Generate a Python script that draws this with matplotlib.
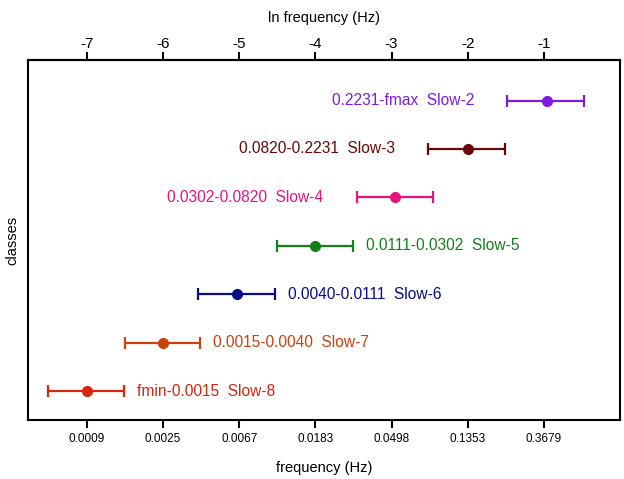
import matplotlib.pyplot as plt
import numpy as np

plt.rcParams['font.family'] = ['Liberation Sans', 'DejaVu Sans']

# classes from top to bottom
classes = ['Slow-2', 'Slow-3', 'Slow-4', 'Slow-5', 'Slow-6', 'Slow-7', 'Slow-8']
ranges = ['0.2231-fmax', '0.0820-0.2231', '0.0302-0.0820', '0.0111-0.0302',
          '0.0040-0.0111', '0.0015-0.0040', 'fmin-0.0015']
centers = [-0.96, -2.0, -2.95, -4.0, -5.03, -6.0, -7.0]
err_lo = [0.52, 0.52, 0.51, 0.5, 0.51, 0.5, 0.51]
err_hi = [0.49, 0.49, 0.49, 0.49, 0.5, 0.49, 0.49]
colors = ['#7f1be0', '#6a0808', '#e8127c', '#15801a', '#0a0a8c', '#c8410f', '#d8250c']
label_left = [True, True, True, False, False, False, False]

top_ticks = [-7, -6, -5, -4, -3, -2, -1]
bottom_labels = ['0.0009', '0.0025', '0.0067', '0.0183', '0.0498', '0.1353', '0.3679']

fig, ax = plt.subplots(figsize=(6.24, 4.79), dpi=100)
fig.subplots_adjust(left=0.045, right=0.994, bottom=0.123, top=0.875)

ypos = np.arange(len(classes), 0, -1)
for i in range(len(classes)):
    ax.errorbar(centers[i], ypos[i], xerr=[[err_lo[i]], [err_hi[i]]], fmt='o',
                color=colors[i], ms=7, lw=1.6, capsize=4.5, capthick=1.6)
    txt = ranges[i] + '  ' + classes[i]
    if label_left[i]:
        ax.annotate(txt, (centers[i] - err_lo[i], ypos[i]), xytext=(-33, 0),
                    textcoords='offset pixels', ha='right', va='center',
                    color=colors[i], fontsize=11.2)
    else:
        ax.annotate(txt, (centers[i] + err_hi[i], ypos[i]), xytext=(13, 0),
                    textcoords='offset pixels', ha='left', va='center',
                    color=colors[i], fontsize=11.2)

ax.set_xlim(-7.77, 0.0)
ax.set_ylim(0.4, 7.84)
ax.set_yticks([])
ax.set_xticks(top_ticks)
ax.set_xticklabels(bottom_labels, fontsize=8.5)
ax.tick_params(axis='x', direction='out', length=6, width=1.5, pad=3)
ax.set_xlabel('frequency (Hz)', fontsize=10.5, labelpad=12)
ax.set_ylabel('classes', fontsize=10.5, labelpad=6)

top = ax.secondary_xaxis('top')
top.set_xticks(top_ticks)
top.set_xticklabels([str(t) for t in top_ticks], fontsize=11)
top.tick_params(direction='out', length=6, width=1.5, pad=0.5)
top.set_xlabel('ln frequency (Hz)', fontsize=10.5, labelpad=11)
top.spines['top'].set_linewidth(1.5)

for s in ax.spines.values():
    s.set_linewidth(1.5)

fig.savefig('out.png', dpi=100)
